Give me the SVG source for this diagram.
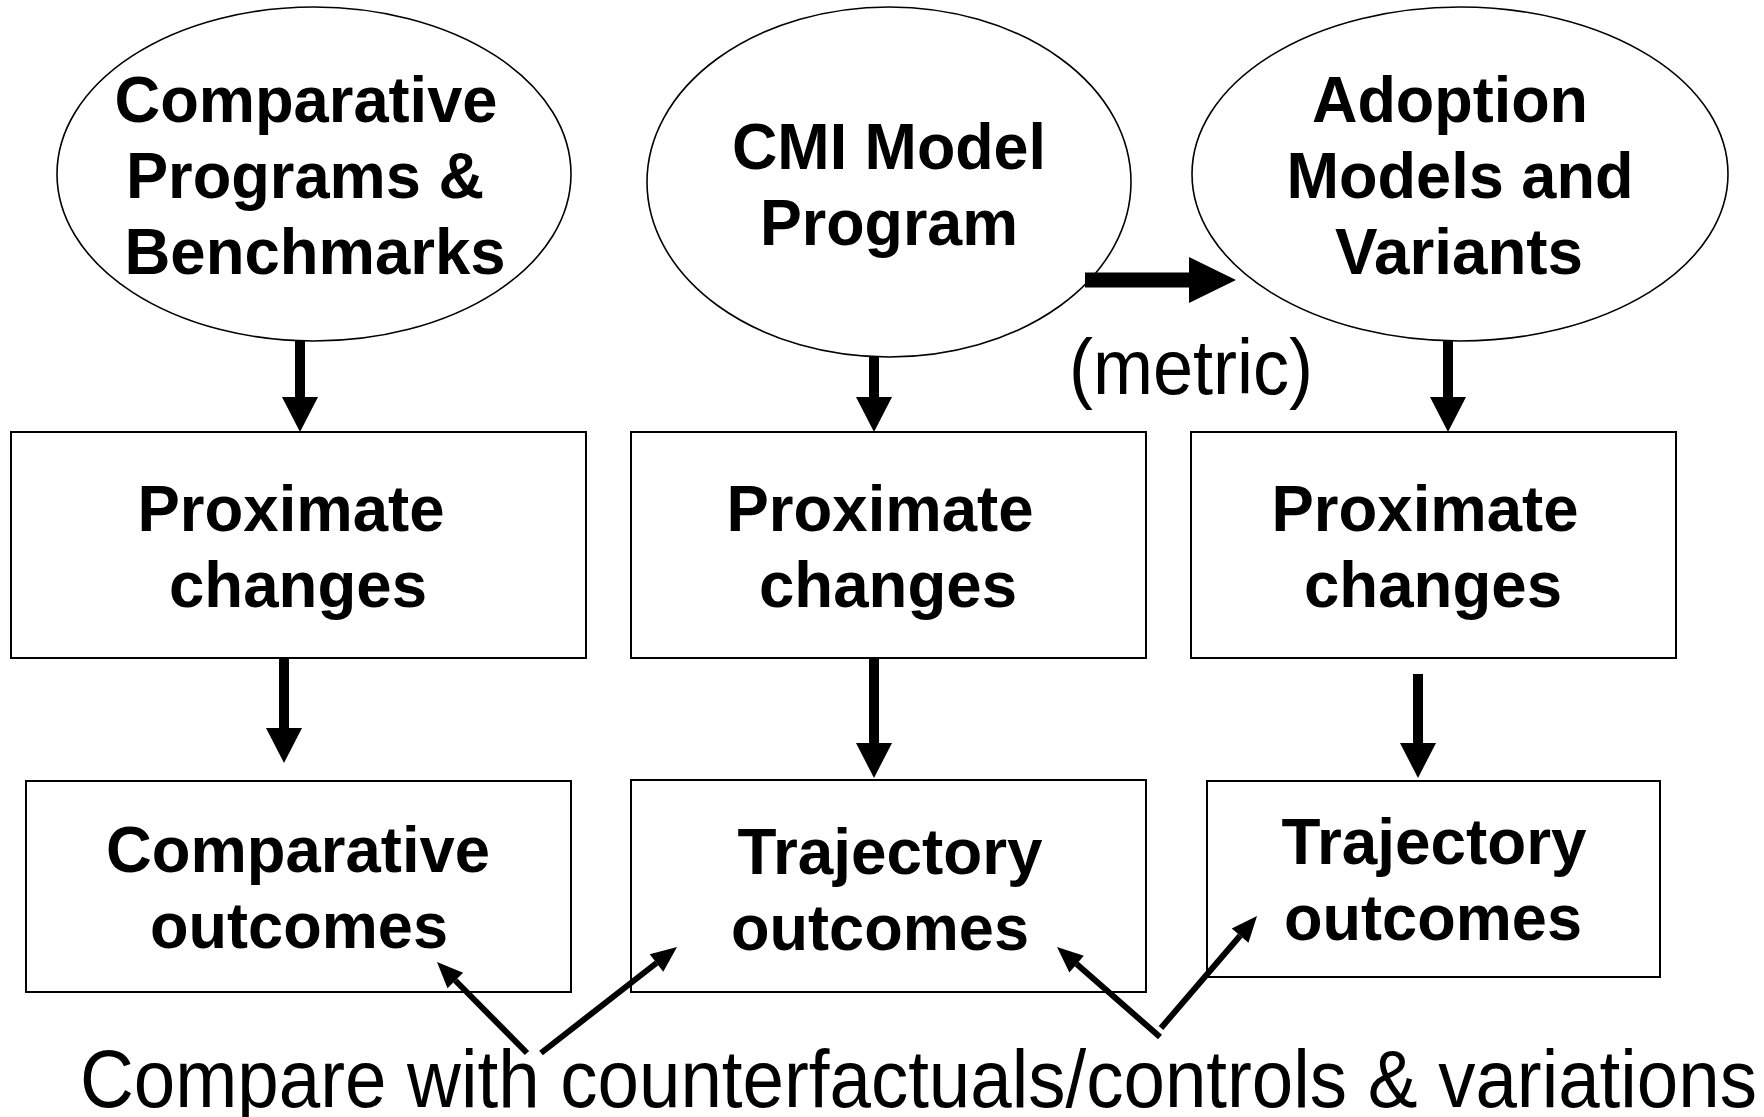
<svg xmlns="http://www.w3.org/2000/svg" width="1764" height="1117" viewBox="0 0 1764 1117">
  <style>
    .shape { fill: #ffffff; stroke: #000000; }
    .oval { stroke-width: 1.6; }
    .box { stroke-width: 2; }
    .bold { font-family: "Liberation Sans", Arial, sans-serif; font-weight: bold; font-size: 64px; fill: #000000; text-anchor: middle; }
    .plain { font-family: "Liberation Sans", Arial, sans-serif; font-weight: normal; fill: #000000; }
    .thick { stroke: #000000; stroke-width: 10; fill: none; }
    .wide { stroke: #000000; stroke-width: 15; fill: none; }
    .thin { stroke: #000000; stroke-width: 6; fill: none; }
  </style>
  <defs>
    <marker id="headBig" markerUnits="userSpaceOnUse" markerWidth="36" markerHeight="36" refX="0" refY="18" orient="auto" overflow="visible">
      <path d="M0,0 L35,18 L0,36 Z" fill="#000000"/>
    </marker>
    <marker id="headWide" markerUnits="userSpaceOnUse" markerWidth="48" markerHeight="46" refX="0" refY="23" orient="auto" overflow="visible">
      <path d="M0,0 L47,23 L0,46 Z" fill="#000000"/>
    </marker>
    <marker id="headSmall" markerUnits="userSpaceOnUse" markerWidth="27" markerHeight="22" refX="0" refY="11" orient="auto" overflow="visible">
      <path d="M0,0 L26,11 L0,22 Z" fill="#000000"/>
    </marker>
  </defs>

  <rect width="1764" height="1117" fill="#ffffff"/>

  <!-- top row: source ovals -->
  <g id="comparative-programs">
    <ellipse class="shape oval" cx="314" cy="174" rx="257" ry="167"/>
    <text class="bold" x="306" y="122" textLength="383" lengthAdjust="spacingAndGlyphs">Comparative</text>
    <text class="bold" x="305" y="198" textLength="358" lengthAdjust="spacingAndGlyphs">Programs &amp;</text>
    <text class="bold" x="315" y="274" textLength="381" lengthAdjust="spacingAndGlyphs">Benchmarks</text>
  </g>
  <g id="cmi-model-program">
    <ellipse class="shape oval" cx="889" cy="182" rx="242" ry="175"/>
    <text class="bold" x="889" y="169" textLength="314" lengthAdjust="spacingAndGlyphs">CMI Model</text>
    <text class="bold" x="889" y="245" textLength="258" lengthAdjust="spacingAndGlyphs">Program</text>
  </g>
  <g id="adoption-models">
    <ellipse class="shape oval" cx="1460" cy="174" rx="268" ry="167"/>
    <text class="bold" x="1450" y="122" textLength="276" lengthAdjust="spacingAndGlyphs">Adoption</text>
    <text class="bold" x="1460" y="198" textLength="347" lengthAdjust="spacingAndGlyphs">Models and</text>
    <text class="bold" x="1459" y="274" textLength="248" lengthAdjust="spacingAndGlyphs">Variants</text>
  </g>

  <!-- middle row: proximate changes -->
  <g id="proximate-1">
    <rect class="shape box" x="11" y="432" width="575" height="226"/>
    <text class="bold" x="291" y="531" textLength="307" lengthAdjust="spacingAndGlyphs">Proximate</text>
    <text class="bold" x="298" y="607" textLength="258" lengthAdjust="spacingAndGlyphs">changes</text>
  </g>
  <g id="proximate-2">
    <rect class="shape box" x="631" y="432" width="515" height="226"/>
    <text class="bold" x="880" y="531" textLength="307" lengthAdjust="spacingAndGlyphs">Proximate</text>
    <text class="bold" x="888" y="607" textLength="258" lengthAdjust="spacingAndGlyphs">changes</text>
  </g>
  <g id="proximate-3">
    <rect class="shape box" x="1191" y="432" width="485" height="226"/>
    <text class="bold" x="1425" y="531" textLength="307" lengthAdjust="spacingAndGlyphs">Proximate</text>
    <text class="bold" x="1433" y="607" textLength="258" lengthAdjust="spacingAndGlyphs">changes</text>
  </g>

  <!-- bottom row: outcomes -->
  <g id="comparative-outcomes">
    <rect class="shape box" x="26" y="781" width="545" height="211"/>
    <text class="bold" x="298" y="872" textLength="384" lengthAdjust="spacingAndGlyphs">Comparative</text>
    <text class="bold" x="299" y="948" textLength="298" lengthAdjust="spacingAndGlyphs">outcomes</text>
  </g>
  <g id="trajectory-outcomes-1">
    <rect class="shape box" x="631" y="780" width="515" height="212"/>
    <text class="bold" x="890" y="874" textLength="305" lengthAdjust="spacingAndGlyphs">Trajectory</text>
    <text class="bold" x="880" y="950" textLength="298" lengthAdjust="spacingAndGlyphs">outcomes</text>
  </g>
  <g id="trajectory-outcomes-2">
    <rect class="shape box" x="1207" y="781" width="453" height="196"/>
    <text class="bold" x="1434" y="864" textLength="305" lengthAdjust="spacingAndGlyphs">Trajectory</text>
    <text class="bold" x="1433" y="940" textLength="298" lengthAdjust="spacingAndGlyphs">outcomes</text>
  </g>

  <!-- free labels -->
  <g id="metric-label">
    <text class="plain" x="1069" y="394" font-size="77" textLength="244" lengthAdjust="spacingAndGlyphs">(metric)</text>
  </g>
  <g id="compare-label">
    <text class="plain" x="80" y="1107" font-size="81" textLength="1677" lengthAdjust="spacingAndGlyphs">Compare with counterfactuals/controls &amp; variations</text>
  </g>

  <!-- connectors -->
  <g id="connectors">
    <line class="thick" x1="300" y1="341" x2="300" y2="397" marker-end="url(#headBig)"/>
    <line class="thick" x1="874" y1="357" x2="874" y2="397" marker-end="url(#headBig)"/>
    <line class="thick" x1="1448" y1="341" x2="1448" y2="397" marker-end="url(#headBig)"/>
    <line class="thick" x1="284" y1="658" x2="284" y2="728" marker-end="url(#headBig)"/>
    <line class="thick" x1="874" y1="658" x2="874" y2="743" marker-end="url(#headBig)"/>
    <line class="thick" x1="1418" y1="674" x2="1418" y2="743" marker-end="url(#headBig)"/>
    <line class="wide" x1="1085" y1="280" x2="1189" y2="280" marker-end="url(#headWide)"/>
    <line class="thin" x1="527" y1="1053" x2="455.3" y2="980.5" marker-end="url(#headSmall)"/>
    <line class="thin" x1="541" y1="1053" x2="656.5" y2="963" marker-end="url(#headSmall)"/>
    <line class="thin" x1="1160" y1="1037" x2="1076.6" y2="964.1" marker-end="url(#headSmall)"/>
    <line class="thin" x1="1161" y1="1028" x2="1240.1" y2="935.7" marker-end="url(#headSmall)"/>
  </g>
</svg>
